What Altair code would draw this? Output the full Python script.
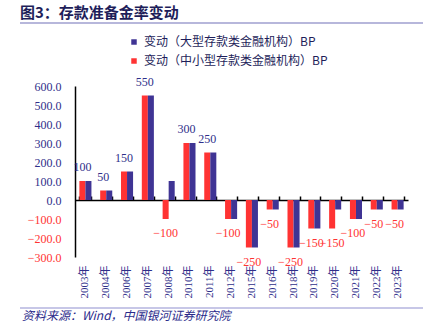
import altair as alt
import pandas as pd

years = ["2003年", "2004年", "2006年", "2007年", "2008年", "2010年", "2011年", "2012年",
         "2015年", "2016年", "2018年", "2019年", "2020年", "2021年", "2022年", "2023年"]
large = [100, 50, 150, 550, 100, 300, 250, -100, -250, -50, -250, -150, -50, -100, -50, -50]
small = [100, 50, 150, 550, -100, 300, 250, -100, -250, -50, -250, -150, -150, -100, -50, -50]

S_LARGE = "变动（大型存款类金融机构）BP"
S_SMALL = "变动（中小型存款类金融机构）BP"

NAVY = "#2F2F8A"
RED = "#FF3333"
BLUE = "#3F3494"
SERIF = "Liberation Serif, Noto Sans CJK SC"
CJK = "Noto Sans CJK SC"

rows = []
for y, a, b in zip(years, large, small):
    rows.append({"year": y, "series": S_SMALL, "value": b})
    rows.append({"year": y, "series": S_LARGE, "value": a})
df = pd.DataFrame(rows)
lab = pd.DataFrame({"year": years, "series": [S_SMALL] * len(years), "value": small})

W, H = 333, 171
YMIN, YMAX = -300, 600
zero_off = H * YMAX / (YMAX - YMIN)

xscale = alt.Scale(domain=years, paddingInner=0.42, paddingOuter=0.21)
yscale = alt.Scale(domain=[YMIN, YMAX], nice=False, zero=False)
xoff = alt.XOffset("series:N", scale=alt.Scale(domain=[S_SMALL, S_LARGE]))

bars = alt.Chart(df).mark_bar().encode(
    x=alt.X("year:N", scale=xscale, sort=years,
            axis=alt.Axis(title=None, orient="bottom", domain=False, ticks=False,
                          labelAngle=270, labelPadding=8, labelFont=SERIF,
                          labelFontSize=11, labelColor=NAVY)),
    xOffset=xoff,
    y=alt.Y("value:Q", scale=yscale,
            axis=alt.Axis(title=None, values=list(range(-300, 601, 100)), format=".1f",
                          grid=False, ticks=False, domain=True, domainColor="#000000",
                          domainWidth=1.5, labelPadding=14, labelFont=SERIF,
                          labelFontSize=12,
                          labelColor=alt.condition("datum.value < 0", alt.value(RED), alt.value(NAVY)))),
    color=alt.Color("series:N",
                    scale=alt.Scale(domain=[S_LARGE, S_SMALL], range=[BLUE, RED]),
                    legend=alt.Legend(title=None, orient="none", legendX=53, legendY=-50,
                                      symbolType="square", symbolSize=30, symbolStrokeWidth=0,
                                      labelFont=CJK, labelFontSize=12, labelColor="#1E1E5A",
                                      rowPadding=7, labelLimit=400)),
)

zero_axis = alt.Chart(df).mark_bar(opacity=0).encode(
    x=alt.X("year:N", scale=xscale, sort=years,
            axis=alt.Axis(title=None, orient="top", offset=-zero_off, labels=False,
                          domain=True, domainColor="#000000", domainWidth=1.5,
                          ticks=True, tickBand="extent", tickSize=4, tickColor="#000000",
                          tickWidth=1.5)),
    y=alt.Y("value:Q", scale=yscale, axis=None),
)

pos_lab = alt.Chart(lab).transform_filter("datum.value > 0").mark_text(
    dy=-14, font=SERIF, fontSize=12, color=NAVY, baseline="middle"
).encode(
    x=alt.X("year:N", scale=xscale, sort=years, axis=None),
    xOffset=xoff,
    y=alt.Y("value:Q", scale=yscale, axis=None),
    text=alt.Text("value:Q", format="d"),
)
neg_lab = alt.Chart(lab).transform_filter("datum.value < 0").mark_text(
    dy=14, font=SERIF, fontSize=12, color=RED, baseline="middle"
).encode(
    x=alt.X("year:N", scale=xscale, sort=years, axis=None),
    xOffset=xoff,
    y=alt.Y("value:Q", scale=yscale, axis=None),
    text=alt.Text("value:Q", format="d"),
)

deco = pd.DataFrame({"t": ["图3：存款准备金率变动"]})
title = alt.Chart(deco).mark_text(
    align="left", baseline="middle", font=CJK, fontSize=15, fontWeight="bold", color="#1E1E5A"
).encode(x=alt.value(-55), y=alt.value(-73), text="t:N")
title_line = alt.Chart(deco).mark_rule(color="#9F9FCF", strokeWidth=1.5).encode(
    x=alt.value(-55), x2=alt.value(348), y=alt.value(-63))

foot = pd.DataFrame({"t": ["资料来源：Wind，中国银河证券研究院"]})
footer = alt.Chart(foot).mark_text(
    align="left", baseline="middle", font=CJK, fontSize=12, fontStyle="italic", color="#2A2A8A"
).encode(x=alt.value(-53), y=alt.value(230), text="t:N")
foot_line = alt.Chart(foot).mark_rule(color="#8F8FCF", strokeWidth=1.2).encode(
    x=alt.value(-55), x2=alt.value(348), y=alt.value(222))

chart = alt.layer(bars, zero_axis, pos_lab, neg_lab, title, title_line, footer, foot_line).resolve_axis(
    x="independent", y="independent"
).properties(
    width=W, height=H,
    autosize=alt.AutoSizeParams(type="none"),
    padding={"left": 75, "top": 86, "right": 22, "bottom": 76},
).configure_view(stroke=None)

chart.save("out.html", embed_options={"renderer": "svg", "actions": False})
